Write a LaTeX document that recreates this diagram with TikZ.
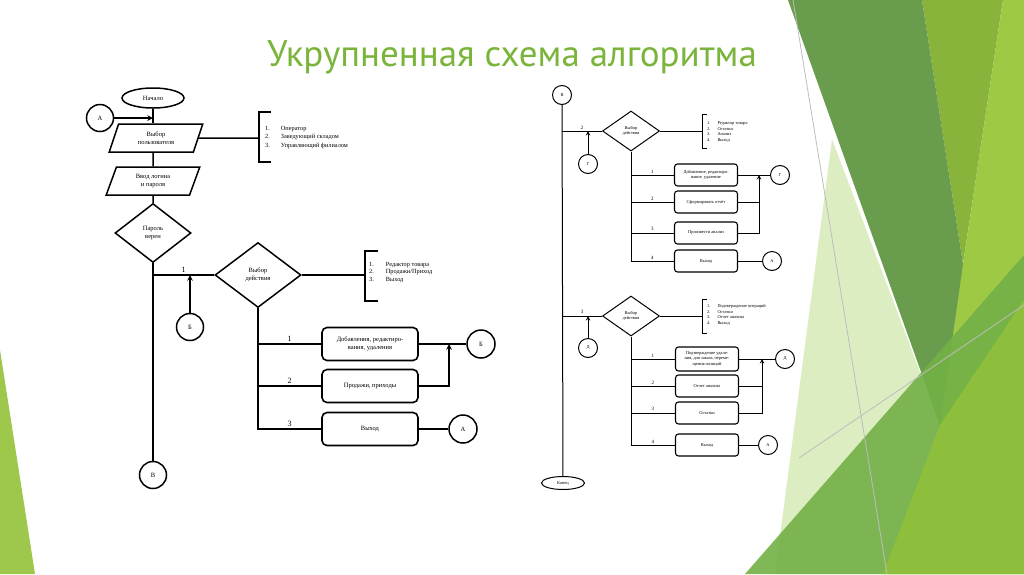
\documentclass[tikz,border=0pt]{standalone}
\usepackage{fontspec}
\setmainfont{Liberation Serif}
\newfontfamily\titlefont{PT Sans}
\usetikzlibrary{positioning,calc,shapes.geometric}
\definecolor{Title}{HTML}{7AB43A}
\definecolor{Moss}{HTML}{6A9C4E}
\definecolor{Olive}{HTML}{88B43B}
\definecolor{Lime}{HTML}{9DC945}
\definecolor{Pale}{HTML}{DDEDC2}
\definecolor{Grass}{HTML}{72B046}
\definecolor{Bright}{HTML}{93C33A}
\definecolor{Sprout}{HTML}{9DC84B}
\definecolor{Rule}{HTML}{BDBDBD}
\tikzset{
  big text/.style={font=\fontsize{6.5}{8}\selectfont,align=center},
  big start/.style={ellipse,draw,line width=1.5pt,minimum width=62pt,
    minimum height=20pt,inner sep=0pt,big text},
  big data/.style={trapezium,trapezium left angle=72,trapezium right angle=108,
    trapezium stretches=true,draw,line width=1.5pt,minimum width=94pt,
    minimum height=28pt,inner sep=1pt,big text},
  big decision/.style={diamond,draw,line width=1.5pt,inner sep=0pt,big text},
  big box/.style={draw,line width=1.6pt,rounded corners=5pt,minimum width=96pt,
    minimum height=33pt,inner sep=1pt,big text},
  big link/.style={circle,draw,line width=1.5pt,minimum size=27pt,inner sep=0pt,
    big text},
  big line/.style={line width=1.5pt},
  big arrow/.style={big line,->,>=stealth},
  big list/.style={anchor=west,inner sep=0pt,font=\fontsize{6.3}{8.5}\selectfont},
  big label/.style={above,inner sep=2pt,font=\fontsize{8}{9}\selectfont},
  small text/.style={font=\fontsize{4.4}{5.2}\selectfont,align=center},
  small start/.style={ellipse,draw,line width=1pt,minimum width=43pt,
    minimum height=13pt,inner sep=0pt,small text},
  small decision/.style={diamond,draw,line width=1pt,minimum width=57pt,
    minimum height=40pt,inner sep=0pt,small text},
  small box/.style={draw,line width=1.1pt,rounded corners=3pt,minimum width=63pt,
    minimum height=22pt,inner sep=1pt,small text},
  small link/.style={circle,draw,line width=1pt,minimum size=19pt,inner sep=0pt,
    small text},
  small line/.style={line width=1pt},
  small arrow/.style={small line,->,>=stealth},
  small list/.style={anchor=west,inner sep=0pt,font=\fontsize{4.4}{5.4}\selectfont},
  small label/.style={above,inner sep=1.5pt,font=\fontsize{5}{6}\selectfont}
}

\begin{document}
\begin{tikzpicture}[x=1pt,y=-1pt]
  \useasboundingbox (0,0) rectangle (1024,574);

  % background facets
  \fill[Sprout] (0,350) -- (35,574) -- (0,574) -- cycle;
  \fill[Olive] (922,0) -- (1003,0) -- (963,264) -- cycle;
  \fill[Lime] (1003,0) -- (1024,0) -- (1024,574) -- (883,574) -- (963,264) -- cycle;
  \fill[Pale] (832,139) -- (940,425) -- (883,574) -- (775,574) -- cycle;
  \fill[Moss] (788,0) -- (922,0) -- (963,264) -- (940,425) -- cycle;
  \fill[Grass,opacity=.9] (745,574) -- (1024,255) -- (1024,574) -- cycle;
  \fill[Bright,opacity=.8] (883,574) -- (940,425) -- (1024,300) -- (1024,574) -- cycle;
  \draw[Rule,line width=.8pt] (793,0) -- (887,574);
  \draw[Rule,line width=.8pt] (799,458) -- (1024,305);

  \node[font=\titlefont\fontsize{37}{40}\selectfont,text=Title,anchor=base]
    (title) at (512,66) {Укрупненная схема алгоритма};

  % left chart
  \node[big start] (start) at (153,98) {Начало};
  \node[big link] (linkA) at (100,118) {А};
  \node[big data] (userchoice) at (156,138) {Выбор\\пользователя};
  \node[big data] (login) at (153,181) {Ввод логина\\и пароля};
  \node[big decision,minimum width=76pt,minimum height=59pt] (pwdok) at (153,233)
    {Пароль\\верен};
  \node[big link] (linkV) at (153,475) {В};
  \node[big decision,minimum width=86pt,minimum height=65pt] (actchoice) at (258,275)
    {Выбор\\действия};
  \node[big link] (linkB) at (190,327) {Б};
  \node[big box] (act1) at (370,344) {Добавления, редактиро-\\вания, удаления};
  \node[big box] (act2) at (370,386) {Продажи, приходы};
  \node[big box] (act3) at (370,429) {Выход};
  \node[big link,minimum size=28pt] (linkBr) at (481,344) {Б};
  \node[big link,minimum size=28pt] (linkAr) at (463,429) {А};
  \coordinate (joinA) at (153,118);
  \coordinate (branch1) at (153,275);
  \coordinate (mergeB) at (449,344);
  \coordinate (userbr) at (259,138);
  \coordinate (actbr) at (365,275);

  \draw[big line] (start) -- (start |- userchoice.north);
  \draw[big line] (start |- userchoice.south) -- (login);
  \draw[big line] (login) -- (pwdok);
  \draw[big line] (pwdok) -- (linkV);
  \draw[big arrow] (linkA) -- (joinA);
  \draw[big line] (branch1) -- (actchoice.west) node[midway,big label] {1};
  \draw[big arrow] (linkB) -- (linkB |- branch1);
  \draw[big line] (userchoice.east) -- (userbr);
  \draw[big line] ($(userbr)+(12,-26)$) -- ++(-12,0) -- ++(0,50) -- ++(12,0);
  \node[big list] (userlist) at (265,137) {\begin{tabular}{@{}l@{\hspace{11pt}}l@{}}
    1.&Оператор\\2.&Заведующий складом\\3.&Управляющий филиалом\end{tabular}};
  \draw[big line] (actchoice.east) -- (actbr);
  \draw[big line] ($(actbr)+(13,-24)$) -- ++(-13,0) -- ++(0,50) -- ++(13,0);
  \node[big list,font=\fontsize{6.3}{7.5}\selectfont] (actlist) at (369,272)
    {\begin{tabular}{@{}l@{\hspace{12pt}}l@{}}
    1.&Редактор товара\\2.&Продажи/Приход\\3.&Выход\end{tabular}};
  \draw[big line] (actchoice.south |- act1) -- (act1.west) node[midway,big label] {1};
  \draw[big line] (actchoice.south |- act2) -- (act2.west) node[midway,big label] {2};
  \draw[big line] (actchoice.south) |- (act3.west) node[pos=.75,big label] {3};
  \draw[big line] (act1) -- (linkBr);
  \draw[big arrow] (act2.east) -| (mergeB);
  \draw[big line] (act3) -- (linkAr);

  % right chart
  \node[small link] (linkV2) at (562,95) {В};
  \node[small start] (finish) at (563,483) {Конец};
  \coordinate (branch2) at (562,131);
  \coordinate (branch3) at (562,316);
  \node[small decision] (menu1) at (631,131) {Выбор\\действия};
  \node[small link] (linkG) at (588,164) {Г};
  \node[small box] (ed1) at (706,175) {Добавление, редактиро-\\вание, удаление};
  \node[small box] (ed2) at (706,202) {Сформировать отчёт};
  \node[small box] (ed3) at (706,233) {Произвести анализ};
  \node[small box] (ed4) at (706,261) {Выход};
  \node[small link] (linkGr) at (780,175) {Г};
  \node[small link] (linkA1) at (772,261) {А};
  \coordinate (mergeG) at (759,175);
  \coordinate (menu1br) at (702,131);

  \node[small decision] (menu2) at (631,316) {Выбор\\действия};
  \node[small link] (linkD) at (588,348) {Д};
  \node[small box,minimum height=24pt] (ok1) at (707,359)
    {Подтверждение удале-\\ния, для заказа, переме-\\щения позиций};
  \node[small box] (ok2) at (707,386) {Отчет анализа};
  \node[small box] (ok3) at (707,413) {Остатки};
  \node[small box] (ok4) at (707,445) {Выход};
  \node[small link] (linkDr) at (785,359) {Д};
  \node[small link] (linkA2) at (768,445) {А};
  \coordinate (mergeD) at (762,359);
  \coordinate (menu2br) at (702,316);

  \draw[small line] (linkV2) -- (finish);
  \draw[small line] (branch2) -- (menu1.west) node[midway,small label] {2};
  \draw[small arrow] (linkG) -- (linkG |- branch2);
  \draw[small line] (menu1.east) -- (menu1br);
  \draw[small line] ($(menu1br)+(5,-17)$) -- ++(-5,0) -- ++(0,34) -- ++(5,0);
  \node[small list] (menu1list) at (707,132) {\begin{tabular}{@{}l@{\hspace{7pt}}l@{}}
    1.&Редактор товара\\2.&Остатки\\3.&Анализ\\4.&Выход\end{tabular}};
  \draw[small line] (menu1.south |- ed1) -- (ed1.west) node[midway,small label] {1};
  \draw[small line] (menu1.south |- ed2) -- (ed2.west) node[midway,small label] {2};
  \draw[small line] (menu1.south |- ed3) -- (ed3.west) node[midway,small label] {3};
  \draw[small line] (menu1.south) |- (ed4.west) node[pos=.75,small label] {4};
  \draw[small line] (ed1) -- (linkGr);
  \draw[small line] (ed2.east) -- (ed2.east -| mergeG);
  \draw[small arrow] (ed3.east) -| (mergeG);
  \draw[small line] (ed4) -- (linkA1);

  \draw[small line] (branch3) -- (menu2.west) node[midway,small label] {3};
  \draw[small arrow] (linkD) -- (linkD |- branch3);
  \draw[small line] (menu2.east) -- (menu2br);
  \draw[small line] ($(menu2br)+(5,-17)$) -- ++(-5,0) -- ++(0,34) -- ++(5,0);
  \node[small list] (menu2list) at (707,315) {\begin{tabular}{@{}l@{\hspace{7pt}}l@{}}
    1.&Подтверждение операций\\2.&Остатки\\3.&Отчет анализа\\4.&Выход\end{tabular}};
  \draw[small line] (menu2.south |- ok1) -- (ok1.west) node[midway,small label] {1};
  \draw[small line] (menu2.south |- ok2) -- (ok2.west) node[midway,small label] {2};
  \draw[small line] (menu2.south |- ok3) -- (ok3.west) node[midway,small label] {3};
  \draw[small line] (menu2.south) |- (ok4.west) node[pos=.75,small label] {4};
  \draw[small line] (ok1) -- (linkDr);
  \draw[small line] (ok2.east) -- (ok2.east -| mergeD);
  \draw[small arrow] (ok3.east) -| (mergeD);
  \draw[small line] (ok4) -- (linkA2);
\end{tikzpicture}
\end{document}
